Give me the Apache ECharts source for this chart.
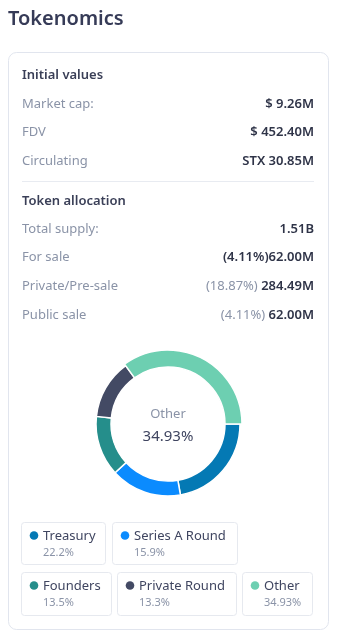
<!DOCTYPE html>
<html><head><meta charset="utf-8">
<script src="https://cdn.jsdelivr.net/npm/echarts@6/dist/echarts.min.js"></script>
<style>html,body{margin:0;padding:0;background:#fff}#c{width:342px;height:638px}</style>
</head><body><div id="c"></div>
<script>
const title = 'Tokenomics';
const section1 = 'Initial values';
const initLabels = ['Market cap:', 'FDV', 'Circulating'];
const initValues = ['$ 9.26M', '$ 452.40M', 'STX 30.85M'];
const section2 = 'Token allocation';
const allocLabels = ['Total supply:', 'For sale', 'Private/Pre-sale', 'Public sale'];
const allocPct = ['', '(4.11%)', '(18.87%) ', '(4.11%) '];
const allocValues = ['1.51B', '62.00M', '284.49M', '62.00M'];
const categories = ['Treasury', 'Series A Round', 'Founders', 'Private Round', 'Other'];
const shares = [22.2, 15.9, 13.5, 13.3, 34.93];
const colors = ['#0479b4', '#0b8bfe', '#258e8b', '#434a64', '#6dcfb1'];
const highlighted = 4;

const FONT = '"Noto Sans", "Open Sans", sans-serif';
const g = [];
g.push({type:'text', left:8, top:9, style:{text:title, font:'600 20px '+FONT, fill:'#363b57'}});
g.push({type:'rect', shape:{x:8.5, y:52.5, width:320, height:577, r:8}, style:{fill:'#fff', stroke:'#e1e5ee', lineWidth:1}});
function txt(x, y, s, font, fill, align){
  return {type:'text', x:x, y:y, style:{text:s, font:font+' '+FONT, fill:fill, align:align||'left', verticalAlign:'middle'}};
}
g.push(txt(22, 75, section1, '600 13px', '#3a3f57'));
initLabels.forEach((l,i)=>{
  const y = 104 + i*28.5;
  g.push(txt(22, y, l, '13px', '#8a93a7'));
  g.push(txt(314, y, initValues[i], '600 13px', '#2f3448', 'right'));
});
g.push({type:'line', shape:{x1:22, y1:181.5, x2:314, y2:181.5}, style:{stroke:'#e8ebf1', lineWidth:1}});
g.push(txt(22, 201, section2, '600 13px', '#3a3f57'));
allocLabels.forEach((l,i)=>{
  const y = 229 + i*28.6;
  g.push(txt(22, y, l, '13px', '#8a93a7'));
  g.push({type:'text', x:314, y:y, style:{
    text:(allocPct[i]?'{p|'+allocPct[i]+'}':'')+'{v|'+allocValues[i]+'}',
    align:'right', verticalAlign:'middle',
    rich:{p:{font:(i===1?'600 13px ':'13px ')+FONT, fill:i===1?'#2f3448':'#8a93a7'}, v:{font:'600 13px '+FONT, fill:'#2f3448'}}
  }});
});
// center label
g.push(txt(168, 414, categories[highlighted], '13px', '#8a93a7', 'center'));
g.push(txt(168, 437, shares[highlighted] + '%', '15px', '#3f4560', 'center'));
// legend boxes
const boxes = [
  {x:21, y:522, w:84, h:42},
  {x:112, y:522, w:125, h:42},
  {x:21, y:572, w:90, h:43},
  {x:117, y:572, w:119, h:43},
  {x:242, y:572, w:70, h:43}
];
categories.forEach((c,i)=>{
  const b = boxes[i];
  g.push({type:'rect', shape:{x:b.x+0.5, y:b.y+0.5, width:b.w, height:b.h, r:3}, style:{fill:'#fff', stroke:'#e6e9ef', lineWidth:1}});
  g.push({type:'circle', shape:{cx:b.x+13, cy:b.y+13.5, r:4.3}, style:{fill:colors[i]}});
  g.push(txt(b.x+22, b.y+14.5, c, '13px', '#3f4560'));
  g.push(txt(b.x+22, b.y+31, shares[i] + '%', '11px', '#8a93a7'));
});

const chart = echarts.init(document.getElementById('c'), null, {renderer:'canvas'});
chart.setOption({
  animation:false,
  series:[{
    type:'pie',
    center:[168, 424],
    radius:[57, 72],
    startAngle:0,
    clockwise:true,
    label:{show:false},
    labelLine:{show:false},
    itemStyle:{borderColor:'#fff', borderWidth:1.5},
    emphasis:{scale:true, scaleSize:2, label:{show:false}},
    data:categories.map((c,i)=>({name:c, value:shares[i], itemStyle:{color:colors[i]}, emphasis:{itemStyle:{color:colors[i]}}}))
  }],
  graphic:{elements:g}
});
chart.dispatchAction({type:'highlight', seriesIndex:0, dataIndex:highlighted});
</script></body></html>
